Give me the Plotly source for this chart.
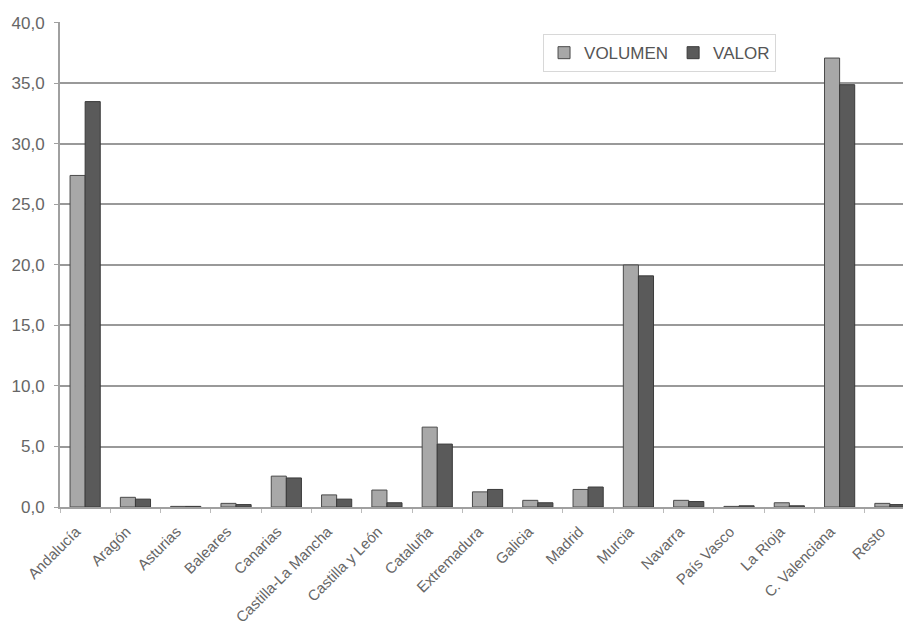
import plotly.graph_objects as go

categories = ["Andalucía", "Aragón", "Asturias", "Baleares", "Canarias",
              "Castilla-La Mancha", "Castilla y León", "Cataluña", "Extremadura",
              "Galicia", "Madrid", "Murcia", "Navarra", "País Vasco", "La Rioja",
              "C. Valenciana", "Resto"]
volumen = [27.4, 0.8, 0.05, 0.3, 2.55, 1.0, 1.4, 6.6, 1.25, 0.55, 1.45, 20.0,
           0.55, 0.05, 0.35, 37.1, 0.3]
valor = [33.5, 0.65, 0.05, 0.2, 2.4, 0.65, 0.35, 5.2, 1.45, 0.35, 1.65, 19.1,
         0.45, 0.1, 0.1, 34.9, 0.2]
y_ticks = [0, 5, 10, 15, 20, 25, 30, 35, 40]

fig = go.Figure()
fig.add_trace(go.Bar(x=categories, y=volumen, name="VOLUMEN",
                     marker=dict(color="#a8a8a8", line=dict(color="#4a4a4a", width=1))))
fig.add_trace(go.Bar(x=categories, y=valor, name="VALOR",
                     marker=dict(color="#5a5a5a", line=dict(color="#3a3a3a", width=1))))

fig.update_layout(
    width=903, height=630,
    margin=dict(l=60, r=0, t=22, b=123, autoexpand=False),
    paper_bgcolor="white", plot_bgcolor="white",
    barmode="group", bargap=0.4, bargroupgap=0,
    separators=",.",
    font=dict(family="Liberation Sans, Arial, sans-serif", color="#555555"),
    legend=dict(orientation="h", x=0.573, y=0.975, xanchor="left", yanchor="top",
                bordercolor="#d8d8d8", borderwidth=1, bgcolor="white",
                font=dict(size=17, color="#555555"), itemwidth=30,
                traceorder="normal"),
    showlegend=True,
)
fig.update_xaxes(
    type="category", range=[-0.5, 16.26], automargin=False,
    tickangle=-45, tickfont=dict(size=15, color="#666666"),
    ticklabelstandoff=8, ticklabelshift=-9,
    tickson="boundaries", ticks="outside", ticklen=4, tickcolor="#bbbbbb",
    showline=True, linecolor="#a0a0a0", linewidth=2,
    showgrid=False,
)
fig.update_yaxes(
    range=[0, 40.08], tickvals=y_ticks, tickformat=".1f", automargin=False,
    tickfont=dict(size=17, color="#666666"), ticklabelstandoff=6,
    ticks="outside", ticklen=4, tickcolor="#a0a0a0",
    showgrid=True, gridcolor="#999999", gridwidth=2,
    showline=True, linecolor="#a0a0a0", linewidth=2,
    zeroline=False,
)

fig.write_html(
    "out.html",
    config={"displayModeBar": False},
    post_script="document.body.style.margin='0';document.body.style.overflow='hidden';",
)
